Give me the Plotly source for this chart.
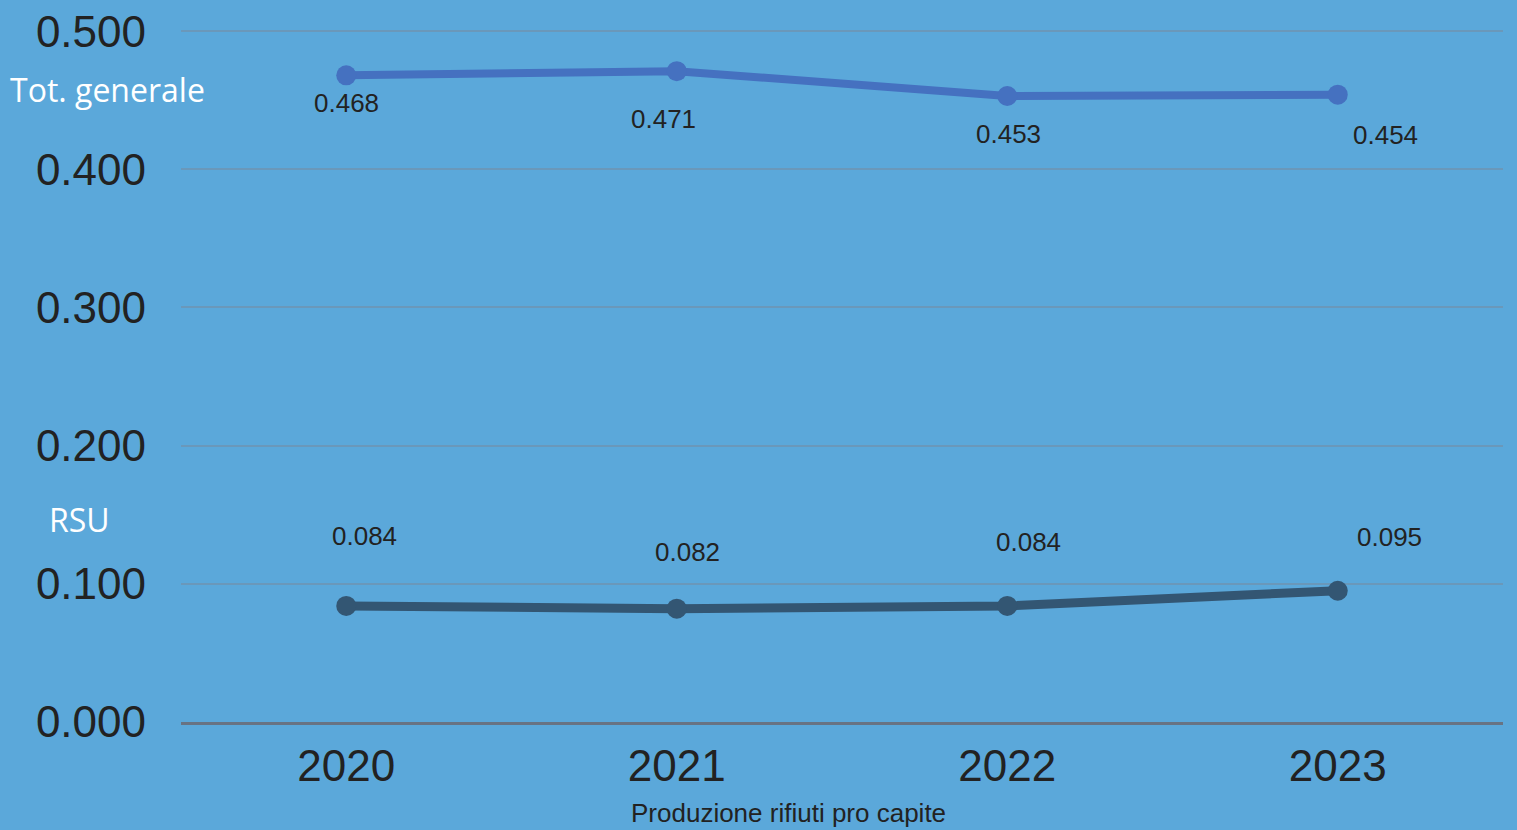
import plotly.graph_objects as go

years = ["2020", "2021", "2022", "2023"]
tot_generale = [0.468, 0.471, 0.453, 0.454]
rsu = [0.084, 0.082, 0.084, 0.095]
tot_label_offsets = [(0, -28), (-13, -48), (1, -38), (48, -40)]
rsu_label_offsets = [(18, 70), (11, 57), (21, 64), (52, 54)]
y_ticks = [0.0, 0.1, 0.2, 0.3, 0.4, 0.5]

BG = "#5BA8DA"
LBL_FONT = dict(family="Liberation Sans, Arial", size=26, color="#222222")

fig = go.Figure()
fig.add_trace(go.Scatter(x=years, y=tot_generale, mode="lines+markers", name="Tot. generale",
                         line=dict(color="#4571C0", width=8), marker=dict(size=20, color="#4571C0")))
fig.add_trace(go.Scatter(x=years, y=rsu, mode="lines+markers", name="RSU",
                         line=dict(color="#335673", width=9), marker=dict(size=20, color="#335673")))

for i, (y, (dx, dy)) in enumerate(zip(tot_generale, tot_label_offsets)):
    fig.add_annotation(x=i, y=y, text=f"{y:.3f}", showarrow=False, xshift=dx, yshift=dy, font=LBL_FONT)
for i, (y, (dx, dy)) in enumerate(zip(rsu, rsu_label_offsets)):
    fig.add_annotation(x=i, y=y, text=f"{y:.3f}", showarrow=False, xshift=dx, yshift=dy, font=LBL_FONT)

fig.add_annotation(xref="paper", yref="paper", x=-0.1308, y=0.9146, text="Tot. generale",
                   showarrow=False, xanchor="left", yanchor="middle",
                   font=dict(family="Open Sans", size=32, color="white"))
fig.add_annotation(xref="paper", yref="paper", x=-0.1013, y=0.2923, text="RSU",
                   showarrow=False, xanchor="left", yanchor="middle",
                   font=dict(family="Open Sans", size=32, color="white"))
fig.add_annotation(xref="paper", yref="paper", x=(788 - 181) / 1322, y=-0.1317,
                   text="Produzione rifiuti pro capite", showarrow=False,
                   xanchor="center", yanchor="middle",
                   font=dict(family="Liberation Sans, Arial", size=26, color="#222222"))

fig.update_layout(
    width=1517, height=830,
    paper_bgcolor=BG, plot_bgcolor=BG,
    margin=dict(l=181, r=14, t=30, b=108),
    showlegend=False,
    xaxis=dict(type="category", range=[-0.5, 3.5], showgrid=False, zeroline=False, automargin=False,
               showline=True, linecolor="#687383", linewidth=3,
               tickfont=dict(family="Liberation Sans, Arial", size=44, color="#222222"),
               ticklabelstandoff=3),
    yaxis=dict(range=[0, 0.5008], tickvals=y_ticks, tickformat=".3f", showgrid=True, automargin=False,
               gridcolor="#6A98BA", gridwidth=2, zeroline=False, showline=False,
               tickfont=dict(family="Liberation Sans, Arial", size=44, color="#222222"),
               ticklabelstandoff=34),
)

fig.write_html("out.html")
